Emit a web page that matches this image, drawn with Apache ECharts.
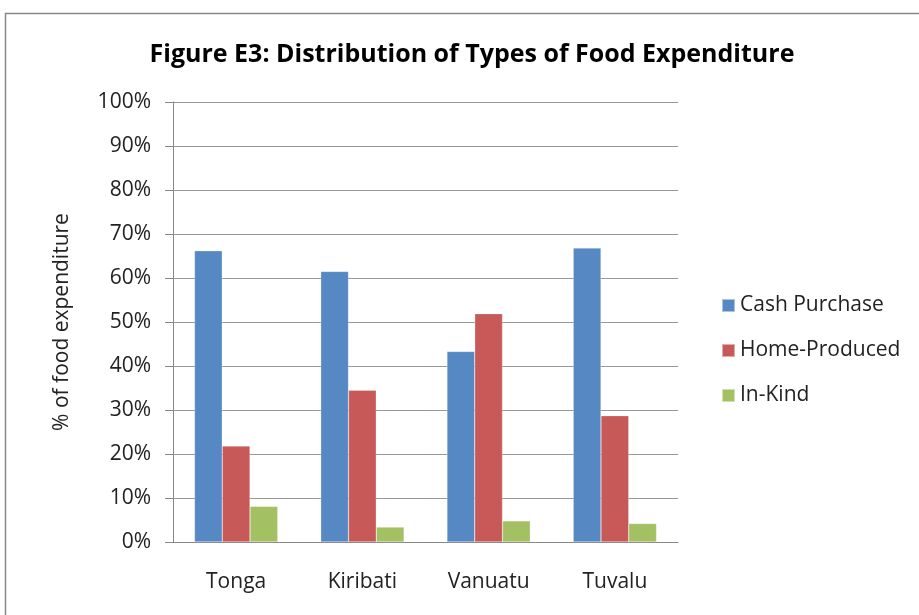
<!DOCTYPE html>
<html>
<head>
<meta charset="utf-8">
<script src="https://cdn.jsdelivr.net/npm/echarts@6/dist/echarts.min.js"></script>
<style>
  html, body { margin: 0; padding: 0; background: #fff; }
  #chart { width: 919px; height: 615px; }
</style>
</head>
<body>
<div id="chart"></div>
<script>
const countries = ['Tonga', 'Kiribati', 'Vanuatu', 'Tuvalu'];
const cashPurchase = [66.2, 61.5, 43.3, 66.8];
const homeProduced = [21.8, 34.5, 51.9, 28.7];
const inKind = [8.1, 3.4, 4.8, 4.2];

const font = '"Open Sans", "Noto Sans", sans-serif';
const chart = echarts.init(document.getElementById('chart'));

const bar = (name, data, color) => ({
  name,
  type: 'bar',
  data,
  barGap: '0%',
  barCategoryGap: '34%',
  itemStyle: { color, borderColor: 'rgba(255,255,255,0.5)', borderWidth: 0.5 }
});

chart.setOption({
  animation: false,
  textStyle: { fontFamily: font },
  title: {
    text: 'Figure E3: Distribution of Types of Food Expenditure',
    left: 467,
    textAlign: 'center',
    top: 37,
    textStyle: { fontSize: 25, fontWeight: 'bold', color: '#000', fontFamily: font }
  },
  graphic: [{
    type: 'rect',
    shape: { x: 5.5, y: 13.5, width: 1000, height: 700 },
    style: { fill: 'none', stroke: '#888', lineWidth: 1.5 },
    silent: true
  }],
  legend: {
    orient: 'vertical',
    left: 716,
    top: 290,
    itemWidth: 13,
    itemHeight: 13,
    itemGap: 24,
    icon: 'rect',
    textStyle: { fontSize: 21, color: '#222', fontFamily: font }
  },
  grid: { left: 173, right: 241, top: 102, bottom: 73 },
  xAxis: {
    type: 'category',
    data: countries,
    axisLine: { lineStyle: { color: '#888' } },
    axisTick: { length: 9, lineStyle: { color: '#888' } },
    axisLabel: { fontSize: 21, color: '#222', margin: 30 }
  },
  yAxis: {
    type: 'value',
    min: 0,
    max: 100,
    interval: 10,
    name: '% of food expenditure',
    nameLocation: 'middle',
    nameGap: 100,
    nameTextStyle: { fontSize: 21, color: '#222' },
    axisLine: { show: true, lineStyle: { color: '#888' } },
    axisTick: { show: true, inside: false, length: 8, lineStyle: { color: '#888' } },
    axisLabel: { formatter: '{value}%', fontSize: 21, color: '#222', margin: 22 },
    splitLine: { lineStyle: { color: '#999', width: 1 } }
  },
  series: [
    bar('Cash Purchase', cashPurchase, '#5689c4'),
    bar('Home-Produced', homeProduced, '#c75a58'),
    bar('In-Kind', inKind, '#a3c063')
  ]
});
</script>
</body>
</html>
